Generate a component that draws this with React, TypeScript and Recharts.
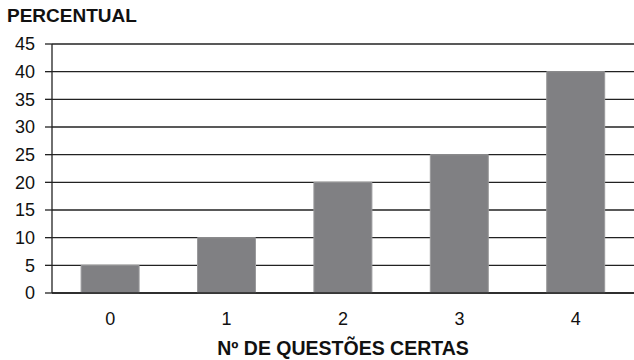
import { BarChart, Bar, XAxis, YAxis, CartesianGrid } from "recharts";

const categories = ["0", "1", "2", "3", "4"];
const percentual = [5, 10, 20, 25, 40];
const yTicks = [0, 5, 10, 15, 20, 25, 30, 35, 40, 45];

const data = categories.map((c, i) => ({ questoes: c, percentual: percentual[i] }));

const font = "Arial, 'Liberation Sans', sans-serif";

export default function App() {
  return (
    <div style={{ position: "absolute", left: 0, top: 0, width: 634, height: 360, background: "#fff", fontFamily: font }}>
      <div style={{ position: "absolute", left: 7, top: 5, fontSize: 19, fontWeight: "bold", color: "#111" }}>PERCENTUAL</div>
      <BarChart width={634} height={360} data={data} margin={{ top: 44, right: 0, left: 0, bottom: 37 }} barCategoryGap="25%">
        <CartesianGrid vertical={false} stroke="#222" strokeWidth={1.3} />
        <XAxis
          dataKey="questoes"
          height={30}
          tickLine={false}
          tickSize={0}
          tickMargin={19}
          axisLine={{ stroke: "#222", strokeWidth: 1.3 }}
          tick={{ fontSize: 18, fill: "#111", fontFamily: font }}
        />
        <YAxis
          width={52}
          domain={[0, 45]}
          ticks={yTicks}
          interval={0}
          tickSize={7}
          tickMargin={10}
          axisLine={{ stroke: "#222", strokeWidth: 1.3 }}
          tickLine={{ stroke: "#222", strokeWidth: 1.3 }}
          tick={{ fontSize: 18, fill: "#111", fontFamily: font }}
        />
        <Bar dataKey="percentual" fill="#808083" stroke="#9a9a9c" strokeWidth={1} isAnimationActive={false} />
      </BarChart>
      <div style={{ position: "absolute", left: 52, width: 582, top: 337, textAlign: "center", fontSize: 19.5, fontWeight: "bold", color: "#111" }}>
        Nº DE QUESTÕES CERTAS
      </div>
    </div>
  );
}
